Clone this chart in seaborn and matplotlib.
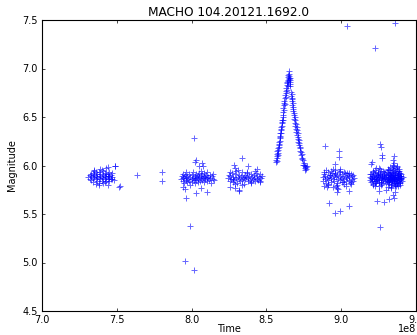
import numpy as np
import pandas as pd
import matplotlib
matplotlib.use("Agg")
import matplotlib.pyplot as plt
import seaborn as sns

# Time in units of 1e8, magnitudes
t_season1 = [7.31, 7.32, 7.32, 7.33, 7.33, 7.34, 7.34, 7.34, 7.35, 7.35,
             7.35, 7.36, 7.36, 7.36, 7.37, 7.37, 7.37, 7.38, 7.38, 7.38,
             7.39, 7.39, 7.39, 7.40, 7.40, 7.40, 7.41, 7.41, 7.41, 7.42,
             7.42, 7.42, 7.43, 7.43, 7.43, 7.43, 7.44, 7.44, 7.44, 7.44,
             7.45, 7.45, 7.45, 7.46, 7.46, 7.47, 7.47, 7.48, 7.49, 7.52,
             7.35, 7.38, 7.41, 7.44, 7.36, 7.39, 7.42, 7.45, 7.33, 7.47]
m_season1 = [5.88, 5.90, 5.86, 5.89, 5.85, 5.92, 5.87, 5.83, 5.90, 5.88,
             5.94, 5.86, 5.89, 5.81, 5.91, 5.88, 5.84, 5.87, 5.93, 5.82,
             5.89, 5.86, 5.91, 5.88, 5.84, 5.95, 5.87, 5.90, 5.82, 5.86,
             5.92, 5.89, 5.97, 5.88, 5.84, 5.91, 5.98, 5.86, 5.89, 5.80,
             5.93, 5.87, 5.84, 5.90, 5.86, 5.88, 5.92, 5.85, 5.99, 5.79,
             5.95, 5.80, 5.94, 5.91, 5.93, 5.96, 5.83, 5.89, 5.91, 5.86]

t_season2 = [7.93, 7.935, 7.94, 7.94, 7.945, 7.95, 7.95, 7.955, 7.96, 7.96,
             7.965, 7.97, 7.97, 7.975, 7.98, 7.98, 7.99, 7.99, 8.00, 8.00,
             8.005, 8.01, 8.01, 8.015, 8.02, 8.02, 8.025, 8.03, 8.03, 8.035,
             8.04, 8.04, 8.045, 8.05, 8.05, 8.055, 8.06, 8.06, 8.065, 8.07,
             8.07, 8.075, 8.08, 8.08, 8.085, 8.09, 8.09, 8.095, 8.10, 8.10,
             8.105, 8.11, 8.115, 8.12, 8.125, 8.13, 8.135, 8.14, 8.145, 8.15]
m_season2 = [5.86, 5.89, 5.84, 5.91, 5.87, 5.82, 5.88, 5.90, 5.85, 5.93,
             5.87, 5.83, 5.89, 5.86, 5.91, 5.84, 5.88, 5.80, 5.86, 5.90,
             5.83, 5.87, 5.93, 5.85, 5.89, 5.82, 5.87, 5.91, 5.85, 5.88,
             5.83, 5.90, 5.86, 5.92, 5.88, 5.84, 5.87, 5.94, 5.89, 5.85,
             5.91, 5.87, 5.83, 5.89, 5.92, 5.86, 5.88, 5.90, 5.84, 5.87,
             5.93, 5.88, 5.85, 5.90, 5.87, 5.82, 5.89, 5.86, 5.91, 5.85]

t_season3 = [8.245, 8.25, 8.255, 8.26, 8.265, 8.27, 8.275, 8.28, 8.285, 8.29,
             8.295, 8.30, 8.305, 8.31, 8.315, 8.32, 8.325, 8.33, 8.335, 8.34,
             8.345, 8.35, 8.355, 8.36, 8.365, 8.37, 8.375, 8.38, 8.385, 8.39,
             8.395, 8.40, 8.405, 8.41, 8.415, 8.42, 8.425, 8.43, 8.435, 8.44,
             8.445, 8.45, 8.455, 8.46, 8.465, 8.47,
             8.257, 8.287, 8.307, 8.337, 8.367, 8.397, 8.427, 8.457, 8.277, 8.347]
m_season3 = [5.87, 5.90, 5.84, 5.89, 5.86, 5.92, 5.83, 5.88, 5.85, 5.91,
             5.87, 5.94, 5.82, 5.88, 5.86, 5.90, 5.84, 5.89, 5.93, 5.85,
             5.87, 5.81, 5.90, 5.86, 5.88, 5.92, 5.84, 5.87, 5.89, 5.85,
             5.91, 5.83, 5.88, 5.86, 5.90, 5.87, 5.84, 5.92, 5.86, 5.89,
             5.85, 5.88, 5.91, 5.84, 5.87, 5.89,
             5.93, 5.81, 5.95, 5.80, 5.93, 5.82, 5.94, 5.83, 5.86, 5.88]

# lensing event
t_event = [8.562, 8.566, 8.568, 8.570, 8.572, 8.574, 8.575, 8.578, 8.580, 8.582,
           8.584, 8.586, 8.588, 8.590, 8.592, 8.593, 8.596, 8.598, 8.600, 8.602,
           8.604, 8.606, 8.608, 8.610, 8.612, 8.614, 8.616, 8.618, 8.620, 8.622,
           8.625, 8.628, 8.630, 8.633, 8.636, 8.638,
           8.568, 8.576, 8.585, 8.589, 8.597, 8.603, 8.611, 8.617, 8.623, 8.629,
           8.637, 8.646,
           8.640, 8.642, 8.644, 8.645, 8.647, 8.648, 8.650, 8.651, 8.652, 8.654,
           8.655, 8.656, 8.658, 8.660, 8.661,
           8.664, 8.666, 8.668, 8.670, 8.672, 8.674, 8.676, 8.678, 8.680, 8.683,
           8.685, 8.688, 8.690, 8.692, 8.695, 8.698, 8.700, 8.703, 8.706, 8.708,
           8.711, 8.714, 8.716, 8.720, 8.723, 8.726, 8.730, 8.733, 8.736, 8.740,
           8.744, 8.748, 8.752, 8.756, 8.760, 8.764, 8.768,
           8.669, 8.677, 8.686, 8.694, 8.702, 8.710, 8.718, 8.727, 8.735, 8.745,
           8.757, 8.770]
m_event = [6.04, 6.06, 6.10, 6.08, 6.12, 6.15, 6.11, 6.18, 6.16, 6.21,
           6.24, 6.22, 6.28, 6.30, 6.33, 6.29, 6.37, 6.40, 6.38, 6.44,
           6.47, 6.45, 6.52, 6.55, 6.50, 6.59, 6.62, 6.66, 6.64, 6.70,
           6.73, 6.77, 6.75, 6.80, 6.83, 6.86,
           6.05, 6.13, 6.19, 6.25, 6.33, 6.41, 6.47, 6.57, 6.63, 6.71,
           6.78, 6.82,
           6.85, 6.88, 6.91, 6.87, 6.93, 6.90, 6.97, 6.92, 6.89, 6.94,
           6.86, 6.90, 6.84, 6.88, 6.82,
           6.72, 6.76, 6.69, 6.66, 6.70, 6.62, 6.60, 6.56, 6.58, 6.52,
           6.48, 6.50, 6.44, 6.41, 6.43, 6.38, 6.35, 6.37, 6.31, 6.29,
           6.27, 6.24, 6.26, 6.21, 6.18, 6.19, 6.14, 6.11, 6.12, 6.08,
           6.06, 6.03, 6.01, 5.99, 5.97, 5.98, 5.96,
           6.74, 6.64, 6.54, 6.47, 6.40, 6.33, 6.23, 6.15, 6.07, 6.01,
           5.95, 5.99]

t_season4 = [8.875, 8.88, 8.885, 8.89, 8.895, 8.90, 8.905, 8.91, 8.915, 8.92,
             8.925, 8.93, 8.935, 8.94, 8.945, 8.95, 8.955, 8.96, 8.965, 8.97,
             8.975, 8.98, 8.985, 8.99, 8.995, 9.00, 9.005, 9.01, 9.015, 9.02,
             9.025, 9.03, 9.035, 9.04, 9.045, 9.05, 9.055, 9.06, 9.065, 9.07,
             9.075, 9.08, 9.085,
             8.882, 8.912, 8.948, 8.968, 8.992, 9.018, 9.042, 9.068, 8.928, 8.958,
             8.885, 8.90, 8.915, 8.93, 8.945, 8.96, 8.975, 8.99, 9.005, 9.02,
             9.035, 9.05, 9.065, 9.08, 8.97]
m_season4 = [5.88, 5.84, 5.91, 5.86, 5.89, 5.82, 5.87, 5.93, 5.85, 5.88,
             5.90, 5.83, 5.87, 5.92, 5.86, 5.89, 5.84, 5.95, 5.88, 5.82,
             5.90, 5.86, 5.93, 5.85, 5.89, 5.87, 5.91, 5.83, 5.88, 5.86,
             5.92, 5.84, 5.89, 5.87, 5.90, 5.85, 5.88, 5.82, 5.91, 5.86,
             5.89, 5.84, 5.87,
             5.93, 5.80, 5.96, 5.79, 5.94, 5.81, 5.92, 5.83, 5.90, 5.92,
             5.79, 5.95, 5.81, 5.94, 5.78, 5.91, 5.80, 5.96, 5.83, 5.93,
             5.79, 5.92, 5.81, 5.90, 5.77]

t_season5 = [9.19, 9.195, 9.20, 9.20, 9.205, 9.21, 9.21, 9.215, 9.22, 9.22,
             9.225, 9.23, 9.23, 9.235, 9.24, 9.24, 9.245, 9.25, 9.25, 9.255,
             9.26, 9.26, 9.265, 9.27, 9.27, 9.275, 9.28, 9.28, 9.285, 9.29,
             9.29, 9.295, 9.30, 9.30, 9.305, 9.31, 9.31, 9.315, 9.32, 9.32,
             9.325, 9.33, 9.33, 9.335, 9.34, 9.34, 9.345, 9.35, 9.35, 9.355,
             9.36, 9.36, 9.365, 9.37, 9.37, 9.375, 9.38, 9.38, 9.385, 9.39,
             9.39, 9.395, 9.40, 9.405, 9.41,
             9.192, 9.198, 9.203, 9.208, 9.213, 9.218, 9.223, 9.228, 9.233, 9.238,
             9.243, 9.248, 9.253, 9.258, 9.263, 9.268, 9.273, 9.278, 9.283, 9.288,
             9.302, 9.306, 9.309, 9.312, 9.314, 9.317, 9.319, 9.322, 9.324, 9.327,
             9.329, 9.332, 9.334, 9.337, 9.339, 9.342, 9.344, 9.347, 9.349, 9.352,
             9.354, 9.357, 9.359, 9.362, 9.364, 9.367, 9.369, 9.372, 9.374, 9.377,
             9.379, 9.382, 9.384, 9.387, 9.389, 9.392, 9.394, 9.397, 9.399, 9.402,
             9.312, 9.336, 9.358, 9.381, 9.345,
             9.318, 9.323, 9.328, 9.333, 9.338, 9.343, 9.348, 9.353, 9.358, 9.363,
             9.368, 9.373, 9.378, 9.383, 9.388, 9.393, 9.398, 9.316, 9.331, 9.346,
             9.361, 9.376, 9.391, 9.326, 9.341, 9.356, 9.371, 9.386, 9.214, 9.224,
             9.234, 9.244, 9.254, 9.264, 9.274, 9.284, 9.206, 9.229, 9.249, 9.269]
m_season5 = [5.88, 5.85, 5.91, 5.83, 5.87, 5.94, 5.80, 5.89, 5.86, 5.92,
             5.84, 5.97, 5.88, 5.82, 5.90, 5.86, 5.93, 5.79, 5.88, 5.85,
             5.91, 5.96, 5.83, 5.87, 5.90, 5.81, 5.94, 5.86, 5.89, 5.84,
             5.92, 5.87, 5.82, 5.90, 5.86, 5.95, 5.88, 5.83, 5.91, 5.85,
             5.98, 5.87, 5.80, 5.93, 5.89, 5.84, 5.90, 5.96, 5.86, 5.82,
             5.92, 5.88, 5.85, 5.99, 5.87, 5.81, 5.90, 5.94, 5.86, 5.83,
             5.89, 5.92, 5.87, 5.84, 5.88,
             5.91, 5.87, 5.84, 5.89, 5.93, 5.86, 5.90, 5.82, 5.88, 5.85,
             5.92, 5.87, 5.83, 5.90, 5.86, 5.94, 5.89, 5.85, 5.91, 5.87,
             5.88, 5.84, 5.93, 5.86, 5.90, 5.81, 5.88, 5.95, 5.85, 5.91,
             5.87, 5.83, 5.89, 5.97, 5.86, 5.92, 5.84, 5.88, 6.00, 5.86,
             5.90, 5.82, 5.94, 5.87, 5.85, 5.91, 5.79, 5.88, 5.93, 5.86,
             5.84, 5.90, 5.96, 5.87, 5.82, 5.89, 5.85, 5.91, 5.87, 5.86,
             5.78, 5.77, 5.80, 5.79, 6.01,
             5.83, 5.92, 5.86, 5.89, 5.81, 5.95, 5.87, 5.84, 5.90, 5.97,
             5.86, 5.82, 5.91, 5.88, 5.94, 5.80, 5.89, 5.96, 5.78, 5.93,
             5.79, 5.98, 5.82, 5.90, 5.85, 5.88, 5.83, 5.92, 5.81, 5.95,
             5.84, 5.89, 5.97, 5.82, 5.88, 5.93, 5.86, 5.79, 5.91, 5.80]

# scattered points away from the main clumps
t_sparse = [7.515, 7.487, 7.635, 7.80, 7.80,
            8.015, 8.027, 8.02, 8.071, 8.075, 8.047, 7.955, 7.965, 8.027, 8.10,
            7.987, 7.955, 8.018, 7.945, 8.06,
            8.282, 8.335, 8.26, 8.287, 8.32, 8.375, 8.315, 8.44, 8.29,
            8.893, 8.987, 8.982, 8.958, 8.92, 8.96, 8.991, 9.053, 9.053, 8.975,
            8.98, 8.905, 9.038,
            9.26, 9.265, 9.27, 9.275, 9.209, 9.20, 9.353, 9.343, 9.35, 9.238,
            9.287, 9.32, 9.353, 9.345, 9.36, 9.26, 9.225, 9.358, 9.30, 9.25]
m_sparse = [5.78, 5.99, 5.90, 5.93, 5.84,
            6.28, 6.06, 6.04, 6.03, 6.00, 5.99, 5.755, 5.67, 5.72, 5.73,
            5.38, 5.02, 4.92, 5.78, 5.77,
            6.01, 6.08, 5.78, 5.765, 5.747, 5.99, 5.74, 5.96, 5.97,
            6.20, 6.15, 6.09, 6.02, 5.61, 5.51, 5.53, 5.58, 5.74, 5.73,
            5.76, 5.78, 7.435,
            6.22, 6.19, 6.11, 6.08, 6.04, 6.02, 6.10, 6.06, 6.03, 5.63,
            5.62, 5.65, 5.66, 5.70, 5.73, 5.37, 7.21, 7.465, 5.75, 5.74]

pieces = [(t_season1, m_season1), (t_season2, m_season2), (t_season3, m_season3),
          (t_event, m_event), (t_season4, m_season4), (t_season5, m_season5),
          (t_sparse, m_sparse)]
df = pd.concat([pd.DataFrame({"Time": np.array(t) * 1e8, "Magnitude": m})
                for t, m in pieces], ignore_index=True)

sns.set_style("ticks", {"xtick.direction": "in", "ytick.direction": "in",
                        "axes.edgecolor": "black", "text.color": "black",
                        "axes.labelcolor": "black", "xtick.color": "black",
                        "ytick.color": "black"})
plt.rcParams["font.family"] = ["DejaVu Sans"]
plt.rcParams["xtick.top"] = True
plt.rcParams["ytick.right"] = True
plt.rcParams["xtick.major.size"] = 2.5
plt.rcParams["ytick.major.size"] = 2.5
plt.rcParams["xtick.major.width"] = 0.5
plt.rcParams["ytick.major.width"] = 0.5
plt.rcParams["axes.linewidth"] = 0.8

fig = plt.figure(figsize=(4.17, 3.35), dpi=100)
ax = fig.add_axes([42 / 417, 24 / 335, 374 / 417, 291 / 335])
sns.scatterplot(data=df, x="Time", y="Magnitude", marker="+", color="blue",
                s=14, linewidth=0.7, alpha=0.6, ax=ax, legend=False)
ax.set_xlim(7.0e8, 9.5e8)
ax.set_ylim(4.5, 7.5)
ax.tick_params(labelsize=7, pad=3)
ax.xaxis.OFFSETTEXTPAD = -0.5
ax.xaxis.get_offset_text().set_fontsize(7)
ax.set_xlabel("Time", fontsize=7, labelpad=-1)
ax.set_ylabel("Magnitude", fontsize=7, labelpad=4)
ax.set_title("MACHO 104.20121.1692.0", fontsize=8.7, pad=3)

fig.savefig("out.png", dpi=100)
